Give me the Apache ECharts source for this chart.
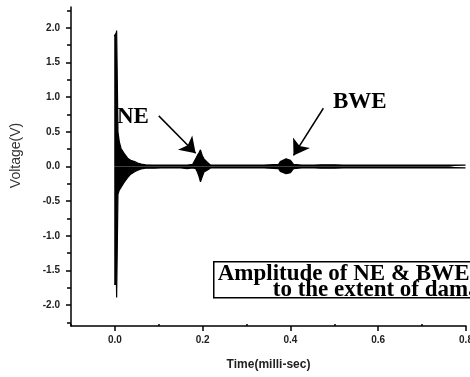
<!DOCTYPE html>
<html>
<head>
<meta charset="utf-8">
<script src="https://cdn.jsdelivr.net/npm/echarts@6/dist/echarts.min.js"></script>
<style>
  html, body {margin: 0; padding: 0; background: #fff;}
  #chart {width: 470px; height: 377px;}
</style>
</head>
<body>
<div id="chart"></div>
<script>
// waveform envelope (time in milli-sec, volts)
const timeMs = [
  -0.0015, 0.0035, 0.004, 0.006, 0.007, 0.010, 0.014, 0.021, 0.029, 0.036,
  0.045, 0.052, 0.060, 0.070, 0.090, 0.105, 0.106, 0.107, 0.119, 0.120,
  0.121, 0.150, 0.165, 0.177, 0.184, 0.188, 0.192, 0.195, 0.199, 0.203,
  0.211, 0.218, 0.235, 0.244, 0.245, 0.246, 0.262, 0.263, 0.264, 0.282,
  0.283, 0.284, 0.300, 0.301, 0.302, 0.318, 0.319, 0.320, 0.340, 0.341,
  0.342, 0.373, 0.377, 0.381, 0.390, 0.400, 0.404, 0.407, 0.425, 0.426,
  0.427, 0.455, 0.456, 0.457, 0.470, 0.500, 0.520, 0.521, 0.522, 0.560,
  0.561, 0.562, 0.600, 0.601, 0.602, 0.640, 0.641, 0.642, 0.680, 0.681,
  0.682, 0.720, 0.721, 0.722, 0.760, 0.761, 0.762, 0.799
];
const upperV = [
  1.88, 1.93, 1.96, 1.96, 0.50, 0.36, 0.26, 0.19, 0.12, 0.09,
  0.07, 0.05, 0.035, 0.025, 0.02, 0.02, 0.02, 0.02, 0.02, 0.045,
  0.02, 0.02, 0.02, 0.03, 0.11, 0.16, 0.20, 0.24, 0.16, 0.11,
  0.06, 0.02, 0.02, 0.02, 0.02, 0.02, 0.02, 0.035, 0.02, 0.02,
  0.02, 0.02, 0.02, 0.035, 0.02, 0.02, 0.02, 0.02, 0.02, 0.035,
  0.02, 0.03, 0.07, 0.095, 0.11, 0.09, 0.07, 0.03, 0.02, 0.02,
  0.02, 0.02, 0.035, 0.02, 0.025, 0.025, 0.02, 0.02, 0.02, 0.02,
  0.035, 0.02, 0.02, 0.02, 0.02, 0.02, 0.035, 0.02, 0.02, 0.02,
  0.02, 0.02, 0.035, 0.02, 0.02, 0.02, 0.02, 0.02
];
const lowerV = [
  -1.70, -1.70, -1.89, -1.89, -0.40, -0.34, -0.30, -0.23, -0.16, -0.11,
  -0.075, -0.055, -0.035, -0.025, -0.025, -0.02, -0.04, -0.02, -0.02, -0.02,
  -0.02, -0.02, -0.03, -0.02, -0.03, -0.08, -0.15, -0.22, -0.15, -0.08,
  -0.05, -0.02, -0.02, -0.02, -0.04, -0.02, -0.02, -0.02, -0.02, -0.02,
  -0.04, -0.02, -0.02, -0.02, -0.02, -0.02, -0.04, -0.02, -0.02, -0.02,
  -0.02, -0.03, -0.07, -0.09, -0.105, -0.09, -0.07, -0.03, -0.02, -0.04,
  -0.02, -0.02, -0.02, -0.02, -0.025, -0.025, -0.02, -0.04, -0.02, -0.02,
  -0.02, -0.02, -0.02, -0.04, -0.02, -0.02, -0.02, -0.02, -0.02, -0.04,
  -0.02, -0.02, -0.02, -0.02, -0.02, -0.04, -0.02, -0.02
];

const xTicks = [0, 0.2, 0.4, 0.6, 0.8];
const xMinorTicks = [-0.1, 0.1, 0.3, 0.5, 0.7];
const yTicks = [-2, -1.5, -1, -0.5, 0, 0.5, 1, 1.5, 2];
const yMinorTicks = [-2.25, -1.75, -1.25, -0.75, -0.25, 0.25, 0.75, 1.25, 1.75, 2.25];

// arrows pointing at the two echoes: [from, to] in data units
const neArrow = [[0.10, 0.73], [0.184, 0.19]];
const bweArrow = [[0.475, 0.84], [0.407, 0.16]];

const chart = echarts.init(document.getElementById('chart'));

const labelFont = {fontFamily: 'Liberation Sans', fontSize: 10, fontWeight: 'bold', color: '#222'};
const serifBold = {fontFamily: 'Liberation Serif', fontWeight: 'bold', fill: '#000'};

const xBase = {
  type: 'value', min: -0.1, max: 0.8, position: 'bottom',
  splitLine: {show: false}
};
const yBase = {
  type: 'value', min: -2.3, max: 2.3, position: 'left',
  splitLine: {show: false}
};

chart.setOption({
  animation: false,
  backgroundColor: '#fff',
  grid: {left: 71, top: 7, width: 395, height: 319, containLabel: false, outerBoundsMode: 'none'},
  xAxis: [{
    ...xBase,
    name: 'Time(milli-sec)',
    nameLocation: 'middle',
    nameGap: 33,
    nameTextStyle: {fontFamily: 'Liberation Sans', fontSize: 12, fontWeight: 'bold', color: '#222'},
    axisLine: {show: true, onZero: false, lineStyle: {color: '#000', width: 1.5}},
    axisTick: {show: true, length: 5, customValues: xTicks, lineStyle: {color: '#000', width: 1.5}},
    axisLabel: {...labelFont, margin: 9, customValues: xTicks, formatter: v => v.toFixed(1)}
  }, {
    ...xBase,
    axisLine: {show: false, onZero: false},
    axisTick: {show: true, inside: true, length: 2, customValues: xMinorTicks, lineStyle: {color: '#000', width: 1.5}},
    axisLabel: {show: false}
  }],
  yAxis: [{
    ...yBase,
    name: 'Voltage(V)',
    nameLocation: 'middle',
    nameGap: 48,
    nameTextStyle: {fontFamily: 'Liberation Sans', fontSize: 14, color: '#333', padding: [0, 0, 0, 22]},
    axisLine: {show: true, onZero: false, lineStyle: {color: '#000', width: 1.5}},
    axisTick: {show: true, length: 5, customValues: yTicks, lineStyle: {color: '#000', width: 1.5}},
    axisLabel: {...labelFont, margin: 11, customValues: yTicks, formatter: v => v.toFixed(1)}
  }, {
    ...yBase,
    axisLine: {show: false, onZero: false},
    axisTick: {show: true, length: 4, customValues: yMinorTicks, lineStyle: {color: '#000', width: 1.5}},
    axisLabel: {show: false}
  }],
  series: [{
    name: 'upper',
    type: 'line',
    xAxisIndex: 0, yAxisIndex: 0,
    data: timeMs.map((t, i) => [t, upperV[i]]),
    symbol: 'none',
    silent: true,
    lineStyle: {color: '#000', width: 1.2},
    areaStyle: {color: '#000', opacity: 1, origin: 0},
    markLine: {
      silent: true,
      symbol: ['none', 'arrow'],
      symbolSize: 15,
      label: {show: false},
      lineStyle: {color: '#000', width: 1.5, type: 'solid'},
      data: [
        [{coord: neArrow[0]}, {coord: neArrow[1]}],
        [{coord: bweArrow[0]}, {coord: bweArrow[1]}]
      ]
    }
  }, {
    name: 'lower',
    type: 'line',
    xAxisIndex: 0, yAxisIndex: 0,
    data: timeMs.map((t, i) => [t, lowerV[i]]),
    symbol: 'none',
    silent: true,
    lineStyle: {color: '#000', width: 1.2},
    areaStyle: {color: '#000', opacity: 1, origin: 0}
  }],
  graphic: [
    {type: 'text', left: 117, top: 106, style: {...serifBold, text: 'NE', fontSize: 23}},
    {type: 'text', left: 333, top: 91, style: {...serifBold, text: 'BWE', fontSize: 23}},
    {
      type: 'group', left: 213, top: 261,
      children: [
        {type: 'rect', shape: {x: 0, y: 0, width: 300, height: 36}, style: {fill: '#fff', stroke: '#000', lineWidth: 1.5}},
        {type: 'text', x: 4, y: 1, style: {...serifBold, text: 'Amplitude of NE & BWE', fontSize: 23}},
        {type: 'text', x: 59, y: 17, style: {...serifBold, text: 'to the extent of damage', fontSize: 23}}
      ]
    }
  ]
});
</script>
</body>
</html>
